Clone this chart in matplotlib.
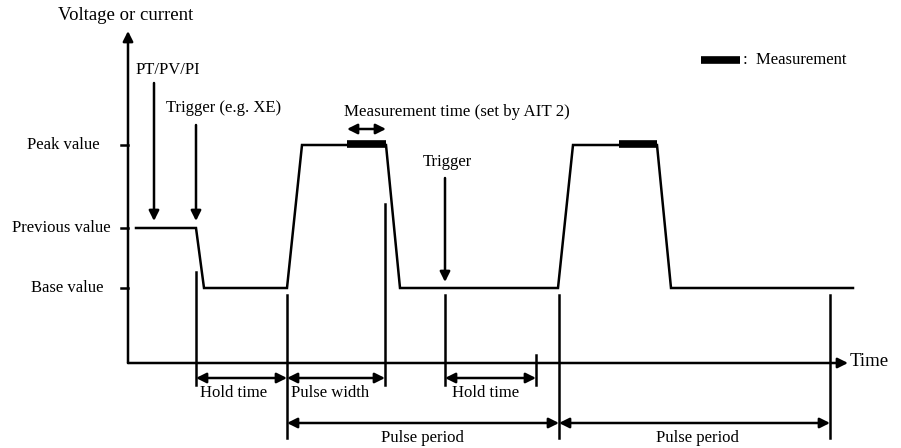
import numpy as np
import matplotlib.pyplot as plt

plt.rcParams['font.family'] = ['Liberation Serif', 'DejaVu Serif']

# waveform (time, level) in picture units
wave_t = [136, 196, 204, 287, 302, 386, 400, 558, 573, 657, 671, 853]
wave_v = [228, 228, 288, 288, 145, 145, 288, 288, 145, 145, 288, 288]

level_names = ['Peak value', 'Previous value', 'Base value']
level_vals = [145, 228, 288]
level_label_x = [63, 61, 67]

# measurement windows on the peaks
meas_start = [347, 619]
meas_end = [386, 657]

# vertical marker lines: x, top, bottom
mark_x = [196, 287, 385, 445, 536, 559, 830]
mark_top = [272, 295, 204, 295, 355, 295, 295]
mark_bot = [385, 438, 385, 385, 385, 438, 438]

# interval arrows: start, end, y, label, label x
span_start = [196, 287, 445, 287, 559]
span_end = [287, 385, 536, 559, 830]
span_y = [378, 378, 378, 423, 423]
span_text = ['Hold time', 'Pulse width', 'Hold time', 'Pulse period', 'Pulse period']
span_text_x = [234, 330, 486, 422, 697]
span_text_y = [393, 393, 393, 438, 438]

# downward trigger arrows: x, top, tip, label, label x, label y
trig_x = [154, 196, 445]
trig_top = [83, 125, 178]
trig_tip = [221, 221, 282]
trig_text = ['PT/PV/PI', 'Trigger (e.g. XE)', 'Trigger']
trig_text_x = [136, 166, 423]
trig_text_y = [70, 108, 162]

axis_x0, axis_y0 = 128, 363

fig = plt.figure(figsize=(9.01, 4.48), dpi=100)
ax = fig.add_axes([0, 0, 1, 1])
ax.set_xlim(0, 901)
ax.set_ylim(448, 0)
ax.axis('off')

lw = 1.8
arr = dict(color='k', lw=lw, shrinkA=0, shrinkB=0, mutation_scale=15)

# axes
ax.annotate('', xy=(axis_x0, 31), xytext=(axis_x0, axis_y0),
            arrowprops=dict(arrowstyle='-|>', **arr))
ax.annotate('', xy=(848, axis_y0), xytext=(axis_x0, axis_y0),
            arrowprops=dict(arrowstyle='-|>', **arr))
ax.text(126, 15, 'Voltage or current', ha='center', va='center', fontsize=13.5)
ax.text(850, 362, 'Time', ha='left', va='center', fontsize=13.5)

for name, v, lx in zip(level_names, level_vals, level_label_x):
    ax.plot([121, axis_x0], [v, v], color='k', lw=lw)
    ax.text(lx, v, name, ha='center', va='center', fontsize=12)

# waveform
ax.plot(wave_t, wave_v, color='k', lw=lw, solid_joinstyle='miter')
for s, e in zip(meas_start, meas_end):
    ax.plot([s, e], [144, 144], color='k', lw=5.5, solid_capstyle='butt')

# measurement time arrow
ax.annotate('', xy=(386, 129), xytext=(347, 129),
            arrowprops=dict(arrowstyle='<|-|>', **arr))
ax.text(344, 112, 'Measurement time (set by AIT 2)', ha='left', va='center', fontsize=12.2)

# legend
ax.plot([701, 740], [60, 60], color='k', lw=5.5, solid_capstyle='butt')
ax.text(743, 60, ':  Measurement', ha='left', va='center', fontsize=12)

# trigger arrows
for x, t, b, s, tx, ty in zip(trig_x, trig_top, trig_tip, trig_text, trig_text_x, trig_text_y):
    ax.annotate('', xy=(x, b), xytext=(x, t), arrowprops=dict(arrowstyle='-|>', **arr))
    ax.text(tx, ty, s, ha='left', va='center', fontsize=12)

# marker lines
for x, t, b in zip(mark_x, mark_top, mark_bot):
    ax.plot([x, x], [t, b], color='k', lw=lw)

# interval arrows
for s, e, y, txt, tx, ty in zip(span_start, span_end, span_y, span_text, span_text_x, span_text_y):
    ax.annotate('', xy=(e, y), xytext=(s, y), arrowprops=dict(arrowstyle='<|-|>', **arr))
    ax.text(tx, ty, txt, ha='center', va='center', fontsize=12)

fig.savefig('out.png', dpi=100)
